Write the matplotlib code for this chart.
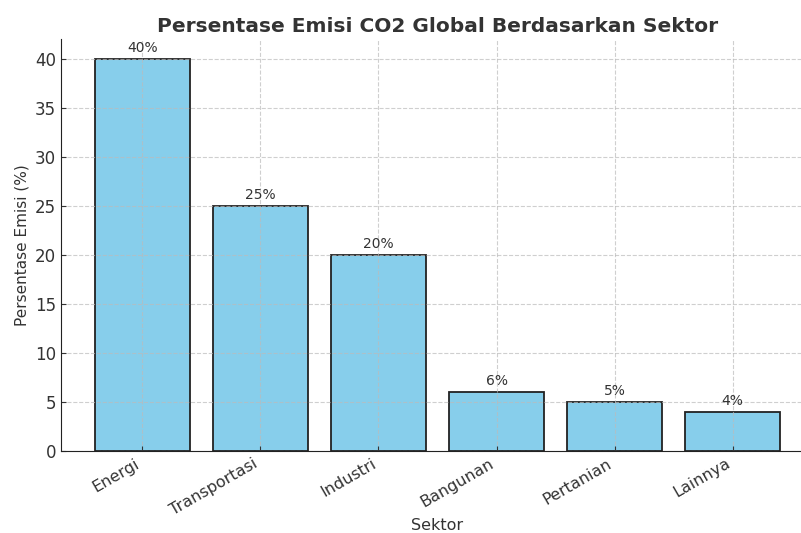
import matplotlib.pyplot as plt

sektor = ['Energi', 'Transportasi', 'Industri', 'Bangunan', 'Pertanian', 'Lainnya']
emisi = [40, 25, 20, 6, 5, 4]

teks = '#333333'
plt.rcParams['text.color'] = teks
plt.rcParams['axes.labelcolor'] = teks
plt.rcParams['xtick.color'] = teks
plt.rcParams['ytick.color'] = teks

fig = plt.figure(figsize=(8.01, 5.33), dpi=100)
ax = fig.add_axes([61 / 801, 82 / 533, 753 / 801, 412 / 533])

bars = ax.bar(sektor, emisi, color='skyblue', edgecolor='#222222', linewidth=1.3)
for b, v in zip(bars, emisi):
    ax.text(b.get_x() + b.get_width() / 2, v + 0.4, f'{v}%',
            ha='center', va='bottom', fontsize=10)

ax.set_title('Persentase Emisi CO2 Global Berdasarkan Sektor',
             fontsize=14.5, fontweight='bold', pad=5)
ax.set_xlabel('Sektor', fontsize=11.5, labelpad=0)
ax.set_ylabel('Persentase Emisi (%)', fontsize=11)
ax.grid(True, linestyle='--', color='#bbbbbb', alpha=0.7)
ax.spines['top'].set_visible(False)
ax.spines['right'].set_visible(False)
ax.spines['left'].set_color('#222222')
ax.spines['bottom'].set_color('#222222')
ax.tick_params(direction='in', labelsize=12)
plt.setp(ax.get_xticklabels(), rotation=30, ha='right', fontsize=11.5)

fig.savefig('out.png', dpi=100)
